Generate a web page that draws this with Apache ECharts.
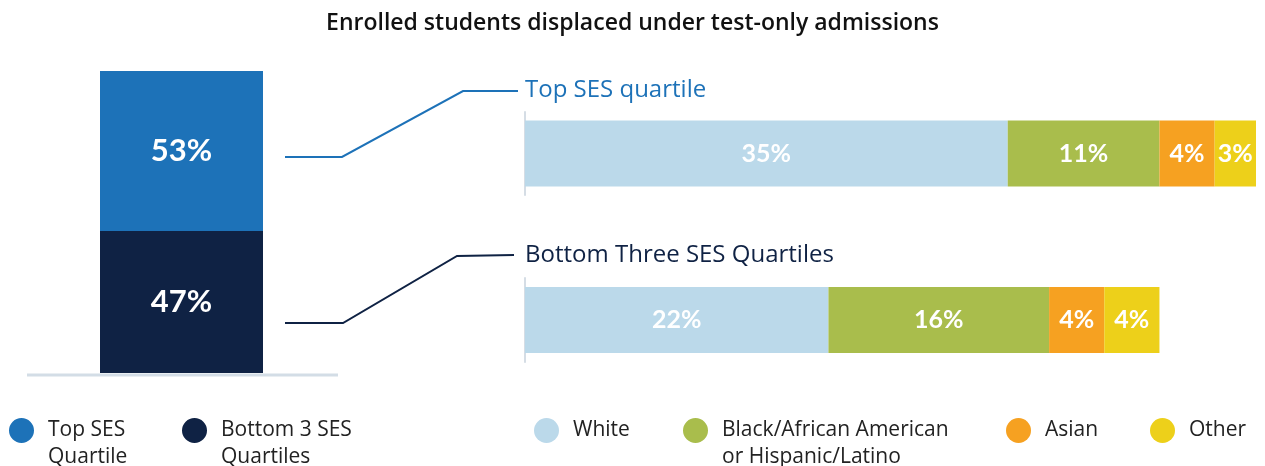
<!DOCTYPE html>
<html>
<head>
<meta charset="utf-8">
<script src="https://cdn.jsdelivr.net/npm/echarts@6/dist/echarts.min.js"></script>
<style>
  html, body { margin: 0; padding: 0; background: #fff; }
  #chart { width: 1265px; height: 466px; }
</style>
</head>
<body>
<div id="chart"></div>
<script>
// data
const quartileNames = ['Bottom 3 SES Quartiles', 'Top SES Quartile'];
const quartileShares = [47, 53];
const quartileColors = ['#0f2244', '#1d72b8'];

const raceNames = ['White', 'Black/African American or Hispanic/Latino', 'Asian', 'Other'];
const raceColors = ['#bbd9ea', '#a9bd4c', '#f6a121', '#edd01a'];
const topQuartileByRace = [35, 11, 4, 3];
const bottomQuartilesByRace = [22, 16, 4, 4];

const legendLabels = {
  'Top SES Quartile': 'Top SES\nQuartile',
  'Bottom 3 SES Quartiles': 'Bottom 3 SES\nQuartiles',
  'White': 'White',
  'Black/African American or Hispanic/Latino': 'Black/African American\nor Hispanic/Latino',
  'Asian': 'Asian',
  'Other': 'Other'
};

const FONT = '"Open Sans", Lato, sans-serif';
const LABEL_FONT = 'Lato, "Open Sans", sans-serif';

// circle at the top of a two-line high box, so it sits on the first text line
const TALL_DOT = 'path://M0,12.5A12.5,12.5,0,1,1,25,12.5A12.5,12.5,0,1,1,0,12.5Z M0,52 L25,52';

const chart = echarts.init(document.getElementById('chart'));

function makeLegend(name, left) {
  const twoLines = legendLabels[name].indexOf('\n') >= 0;
  return {
    data: [name],
    left: left,
    top: 417,
    padding: 0,
    icon: twoLines ? TALL_DOT : 'circle',
    itemWidth: 25,
    itemHeight: twoLines ? 52 : 25,
    selectedMode: false,
    formatter: (n) => legendLabels[n],
    textStyle: {
      fontFamily: FONT,
      fontSize: 21,
      color: '#222',
      lineHeight: 27,
      padding: [0, 0, 0, 9]
    }
  };
}

const series = [];
quartileNames.forEach((name, i) => {
  series.push({
    name: name,
    type: 'bar',
    stack: 'share',
    xAxisIndex: 0,
    yAxisIndex: 0,
    barWidth: '100%',
    data: [quartileShares[i]],
    itemStyle: { color: quartileColors[i] },
    label: {
      show: true,
      position: 'inside',
      formatter: '{c}%',
      color: '#fff',
      fontFamily: LABEL_FONT,
      fontWeight: 'bold',
      fontSize: 31
    }
  });
});
[topQuartileByRace, bottomQuartilesByRace].forEach((vals, g) => {
  raceNames.forEach((name, i) => {
    series.push({
      name: name,
      type: 'bar',
      stack: 'race' + g,
      xAxisIndex: g + 1,
      yAxisIndex: g + 1,
      barWidth: 66,
      data: [vals[i]],
      itemStyle: { color: raceColors[i] },
      label: {
        show: true,
        position: 'inside',
        formatter: '{c}%',
        color: '#fff',
        fontFamily: LABEL_FONT,
        fontWeight: 'bold',
        fontSize: 25
      }
    });
  });
});

chart.setOption({
  animation: false,
  title: {
    text: 'Enrolled students displaced under test-only admissions',
    left: 'center',
    top: 7,
    textStyle: { fontFamily: FONT, fontSize: 23, fontWeight: 600, color: '#111' }
  },
  grid: [
    { left: 100, right: 1002, top: 71, bottom: 93 },
    { left: 525, right: 9, top: 112, bottom: 271 },
    { left: 525, right: 9, top: 278, bottom: 104 }
  ],
  xAxis: [
    { type: 'category', gridIndex: 0, data: ['All'], show: false },
    { type: 'value', gridIndex: 1, min: 0, max: 53, show: false },
    { type: 'value', gridIndex: 2, min: 0, max: 53, show: false }
  ],
  yAxis: [
    { type: 'value', gridIndex: 0, min: 0, max: 100, show: false },
    {
      type: 'category', gridIndex: 1, data: ['Top SES quartile'],
      axisLine: { show: true, lineStyle: { color: '#d5dde5', width: 2 } },
      axisTick: { show: false }, axisLabel: { show: false }
    },
    {
      type: 'category', gridIndex: 2, data: ['Bottom Three SES Quartiles'],
      axisLine: { show: true, lineStyle: { color: '#d5dde5', width: 2 } },
      axisTick: { show: false }, axisLabel: { show: false }
    }
  ],
  legend: [
    makeLegend('Top SES Quartile', 9),
    makeLegend('Bottom 3 SES Quartiles', 182),
    makeLegend('White', 534),
    makeLegend('Black/African American or Hispanic/Latino', 683),
    makeLegend('Asian', 1006),
    makeLegend('Other', 1150)
  ],
  graphic: [
    { type: 'line', shape: { x1: 27, y1: 375, x2: 338, y2: 375 }, style: { stroke: '#d3dde6', lineWidth: 3 } },
    { type: 'polyline', shape: { points: [[285, 157], [342, 157], [463, 91], [518, 91]] }, style: { stroke: '#1d72b8', lineWidth: 2, fill: null } },
    { type: 'polyline', shape: { points: [[285, 323], [343, 323], [457, 256], [514, 255]] }, style: { stroke: '#0f2244', lineWidth: 2, fill: null } },
    { type: 'text', x: 525, y: 90, style: { text: 'Top SES quartile', fill: '#1d72b8', fontFamily: FONT, fontSize: 24, verticalAlign: 'middle' } },
    { type: 'text', x: 525, y: 255, style: { text: 'Bottom Three SES Quartiles', fill: '#0f2244', fontFamily: FONT, fontSize: 24, verticalAlign: 'middle' } }
  ],
  series: series
});
</script>
</body>
</html>
